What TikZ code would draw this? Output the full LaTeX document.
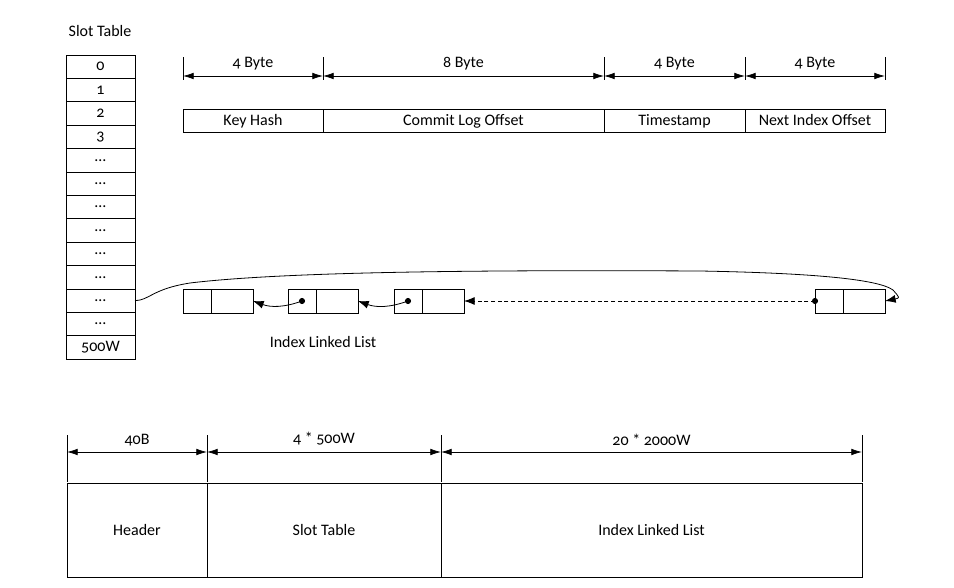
\documentclass[tikz,border=0pt]{standalone}
\usepackage{fontspec}
\setmainfont{Carlito}[Numbers=OldStyle]
\usetikzlibrary{positioning,arrows.meta}
\tikzset{
  slot/.style    ={draw, minimum width=51.75pt, minimum height=17.55pt, inner sep=0pt, outer sep=0pt},
  field/.style   ={draw, minimum height=17.25pt, inner sep=0pt, outer sep=0pt, text height=9pt, text depth=2pt},
  block/.style   ={draw, minimum height=70.5pt, inner sep=0pt, outer sep=0pt},
  cell/.style    ={draw, minimum height=18pt, inner sep=0pt, outer sep=0pt},
  tick/.style    ={line width=0.6pt},
  dim/.style     ={{Latex[length=8pt,width=5pt]}-{Latex[length=8pt,width=5pt]}, line width=0.6pt},
  ptr/.style     ={-{Latex[length=8pt,width=6pt]}, line width=0.6pt},
  dimlabel/.style={above=3.5pt, inner sep=1pt},
}

\begin{document}
\begin{tikzpicture}[x=0.75pt, y=-0.75pt, line width=0.6pt, font=\fontsize{12}{14}\selectfont]
    \useasboundingbox (0,0) rectangle (954,588);
    % --- slot table ---
    \node (stitle) at (100,31) {Slot Table};
    \node[slot] (s0) at (100.5,66.7) {0};
    \foreach \lbl [count=\i, remember=\i as \j (initially 0)] in
      {1,2,3,\ldots,\ldots,\ldots,\ldots,\ldots,\ldots,\ldots,\ldots,500W}
      \node[slot, below=0pt of s\j] (s\i) {\lbl};
    % --- index entry layout ---
    \node[field, minimum width=105pt, anchor=north west] (kh) at (183,109) {Key Hash};
    \node[field, minimum width=210.75pt, right=0pt of kh] (clo) {Commit Log Offset};
    \node[field, minimum width=105.75pt, right=0pt of clo] (ts) {Timestamp};
    \node[field, minimum width=105pt, right=0pt of ts] (nio) {Next Index Offset};
    \foreach \n/\c in {kh.north west/a0, clo.north west/a1, ts.north west/a2,
                       nio.north west/a3, nio.north east/a4}{
      \draw[tick] (\n) ++(0,-29) -- ++(0,-23);
      \coordinate (\c) at ([yshift=24.75pt]\n);
    }
    \draw[dim] (a0) -- node[dimlabel] (la1) {4 Byte} (a1);
    \draw[dim] (a1) -- node[dimlabel] (la2) {8 Byte} (a2);
    \draw[dim] (a2) -- node[dimlabel] (la3) {4 Byte} (a3);
    \draw[dim] (a3) -- node[dimlabel] (la4) {4 Byte} (a4);
    % --- index linked list ---
    \foreach \i/\x in {1/183,2/288,3/394,4/815}{
      \node[cell, minimum width=21pt, anchor=north west] (n\i a) at (\x,289) {};
      \node[cell, minimum width=31.5pt, right=0pt of n\i a] (n\i b) {};
    }
    \fill (n2a.center) circle (2.3pt) (n3a.center) circle (2.3pt) (n4a.west) circle (2.3pt);
    \draw[ptr] (n2a.center) to[out=-160, in=-20] (n1b.east);
    \draw[ptr] (n3a.center) to[out=-160, in=-20] (n2b.east);
    \draw[ptr, densely dashed] (n4a.west) -- (n3b.east);
    \draw[ptr] (s10.east) .. controls (150,300) and (152,289) .. (190,283)
      .. controls (290,271) and (500,270) .. (700,271)
      .. controls (810,273) and (878,279) .. (893,290)
      .. controls (900,298) .. (n4b.east);
    \node (llabel) at (323,342) {Index Linked List};
    % --- file layout ---
    \node[block, minimum width=105pt, anchor=north west] (hdr) at (67,483) {Header};
    \node[block, minimum width=175.5pt, right=0pt of hdr] (slt) {Slot Table};
    \node[block, minimum width=315.75pt, right=0pt of slt] (ill) {Index Linked List};
    \foreach \n/\c in {hdr.north west/b0, slt.north west/b1, ill.north west/b2, ill.north east/b3}{
      \draw[tick] (\n) ++(0,-1) -- ++(0,-47);
      \coordinate (\c) at ([yshift=23.25pt]\n);
    }
    \draw[dim] (b0) -- node[dimlabel] (lb1) {40B} (b1);
    \draw[dim] (b1) -- node[dimlabel] (lb2) {4 * 500W} (b2);
    \draw[dim] (b2) -- node[dimlabel] (lb3) {20 * 2000W} (b3);
\end{tikzpicture}
\end{document}
